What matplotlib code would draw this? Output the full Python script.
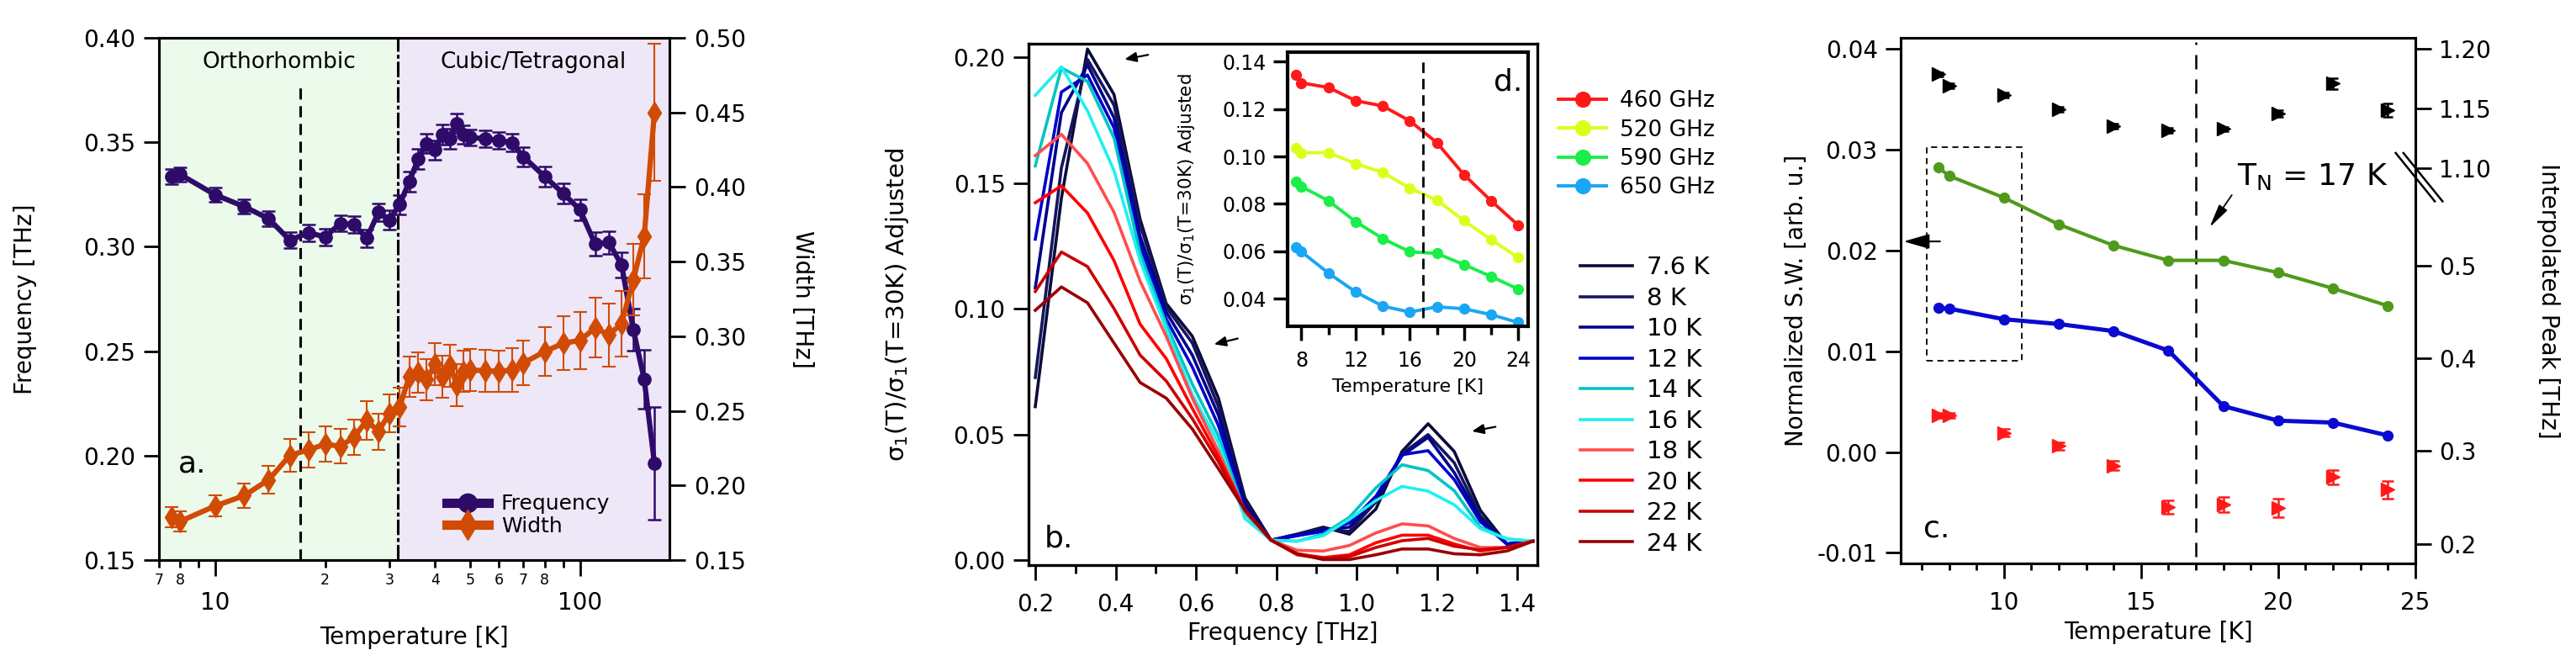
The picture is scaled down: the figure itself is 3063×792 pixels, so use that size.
import matplotlib.pyplot as plt
import numpy as np
from matplotlib.lines import Line2D
from matplotlib.patches import Rectangle
from matplotlib.ticker import FixedLocator, FormatStrFormatter, FuncFormatter, NullLocator

plt.rcParams["font.family"] = ["DejaVu Sans"]
plt.rcParams["mathtext.fontset"] = "dejavusans"

# ---------------- panel a: mode frequency / width vs temperature ----------------
temp_a = [7.6, 8, 10, 12, 14, 16, 18, 20, 22, 24, 26, 28, 30, 32, 34, 36, 38, 40, 42, 44,
          46, 48, 50, 55, 60, 65, 70, 80, 90, 100, 110, 120, 130, 140, 150, 160]
freq_a = [0.3336, 0.3346, 0.3248, 0.3192, 0.3134, 0.3031, 0.3067, 0.3047, 0.3111, 0.3107,
          0.3040, 0.3165, 0.3128, 0.3201, 0.3311, 0.3420, 0.3494, 0.3463, 0.3537, 0.3517,
          0.3591, 0.3537, 0.3523, 0.3517, 0.3510, 0.3497, 0.3430, 0.3336, 0.3255, 0.3177,
          0.3013, 0.3020, 0.2913, 0.2604, 0.2366, 0.1964]
freq_err_a = [0.0036, 0.0035, 0.0035, 0.0035, 0.0037, 0.0038, 0.0040, 0.0040, 0.0038, 0.0040,
              0.0042, 0.0042, 0.0045, 0.0045, 0.0048, 0.0050, 0.0045, 0.0045, 0.0048, 0.0050,
              0.0045, 0.0045, 0.0040, 0.0040, 0.0040, 0.0042, 0.0045, 0.0050, 0.0050, 0.0050,
              0.0055, 0.0055, 0.0060, 0.0100, 0.0140, 0.0270]
width_a = [0.1788, 0.1759, 0.1863, 0.1932, 0.2038, 0.2201, 0.2239, 0.2276, 0.2263, 0.2323,
           0.2436, 0.2361, 0.2483, 0.2526, 0.2727, 0.2756, 0.2709, 0.2812, 0.2727, 0.2803,
           0.2671, 0.2765, 0.2774, 0.2769, 0.2765, 0.2774, 0.2821, 0.2897, 0.2953, 0.2972,
           0.3056, 0.3009, 0.3085, 0.3378, 0.3669, 0.4500]
width_err_a = [0.0066, 0.0066, 0.0070, 0.0080, 0.0093, 0.0110, 0.0117, 0.0118, 0.0116, 0.0120,
               0.0130, 0.0120, 0.0127, 0.0130, 0.0136, 0.0136, 0.0136, 0.0140, 0.0140, 0.0140,
               0.0140, 0.0140, 0.0140, 0.0140, 0.0140, 0.0145, 0.0150, 0.0164, 0.0180, 0.0190,
               0.0200, 0.0210, 0.0220, 0.0240, 0.0280, 0.0460]
t_neel = 17.1
t_struct = 31.7

# ---------------- panel b: sigma1 ratio spectra ----------------
freq_b = [0.200, 0.265, 0.330, 0.396, 0.461, 0.526, 0.591, 0.656, 0.722, 0.787,
          0.852, 0.917, 0.982, 1.048, 1.113, 1.178, 1.243, 1.308, 1.374, 1.439]
sig_7p6k = [0.0611, 0.1440, 0.2033, 0.1852, 0.1356, 0.1021, 0.0891, 0.0645, 0.0248, 0.0080,
            0.0104, 0.0132, 0.0104, 0.0204, 0.0433, 0.0543, 0.0433, 0.0199, 0.0065, 0.0076]
sig_8k = [0.0727, 0.1560, 0.1992, 0.1810, 0.1335, 0.1007, 0.0864, 0.0611, 0.0234, 0.0080,
          0.0104, 0.0126, 0.0115, 0.0232, 0.0424, 0.0500, 0.0388, 0.0177, 0.0065, 0.0076]
sig_10k = [0.1083, 0.1780, 0.1970, 0.1760, 0.1288, 0.0987, 0.0816, 0.0577, 0.0221, 0.0080,
           0.0098, 0.0121, 0.0132, 0.0244, 0.0416, 0.0489, 0.0349, 0.0165, 0.0065, 0.0076]
sig_12k = [0.1277, 0.1862, 0.1930, 0.1720, 0.1254, 0.0960, 0.0768, 0.0536, 0.0207, 0.0080,
           0.0098, 0.0115, 0.0149, 0.0255, 0.0420, 0.0436, 0.0321, 0.0154, 0.0065, 0.0076]
sig_14k = [0.1568, 0.1958, 0.1904, 0.1680, 0.1220, 0.0939, 0.0700, 0.0494, 0.0187, 0.0080,
           0.0076, 0.0104, 0.0171, 0.0288, 0.0380, 0.0357, 0.0277, 0.0132, 0.0085, 0.0076]
sig_16k = [0.1849, 0.1962, 0.1787, 0.1550, 0.1192, 0.0919, 0.0659, 0.0467, 0.0166, 0.0080,
           0.0076, 0.0098, 0.0163, 0.0238, 0.0294, 0.0275, 0.0221, 0.0126, 0.0085, 0.0076]
sig_18k = [0.1609, 0.1694, 0.1578, 0.1384, 0.1110, 0.0891, 0.0645, 0.0433, 0.0193, 0.0080,
           0.0040, 0.0037, 0.0059, 0.0109, 0.0145, 0.0137, 0.0087, 0.0051, 0.0051, 0.0076]
sig_20k = [0.1422, 0.1489, 0.1381, 0.1192, 0.0939, 0.0802, 0.0604, 0.0412, 0.0200, 0.0080,
           0.0026, 0.0011, 0.0022, 0.0070, 0.0100, 0.0100, 0.0065, 0.0037, 0.0051, 0.0076]
sig_22k = [0.1069, 0.1226, 0.1168, 0.1001, 0.0816, 0.0713, 0.0563, 0.0392, 0.0200, 0.0080,
           0.0022, 0.0007, 0.0015, 0.0051, 0.0078, 0.0087, 0.0056, 0.0042, 0.0051, 0.0076]
sig_24k = [0.0994, 0.1087, 0.1024, 0.0864, 0.0707, 0.0645, 0.0522, 0.0364, 0.0200, 0.0080,
           0.0026, 0.0003, 0.0003, 0.0022, 0.0045, 0.0045, 0.0026, 0.0022, 0.0037, 0.0076]
labels_b = ["7.6 K", "8 K", "10 K", "12 K", "14 K", "16 K", "18 K", "20 K", "22 K", "24 K"]
colors_b = ["#0b0b3c", "#15155f", "#00008c", "#0000cc", "#00c4c4",
            "#20f0f0", "#ff4d4d", "#ff0000", "#cc0000", "#990000"]

# ---------------- inset d: sigma1 ratio at fixed frequency ----------------
temp_d = [7.6, 8, 10, 12, 14, 16, 18, 20, 22, 24]
sig_460 = [0.1345, 0.1310, 0.1291, 0.1235, 0.1213, 0.1150, 0.1058, 0.0923, 0.0813, 0.0710]
sig_520 = [0.1035, 0.1016, 0.1016, 0.0970, 0.0933, 0.0866, 0.0816, 0.0729, 0.0650, 0.0573]
sig_590 = [0.0895, 0.0873, 0.0813, 0.0725, 0.0654, 0.0598, 0.0591, 0.0544, 0.0494, 0.0441]
sig_650 = [0.0616, 0.0598, 0.0508, 0.0429, 0.0369, 0.0344, 0.0366, 0.0358, 0.0333, 0.0300]
labels_d = ["460 GHz", "520 GHz", "590 GHz", "650 GHz"]
colors_d = ["#ff1a1a", "#dcff1a", "#1aee48", "#1aa6f5"]

# ---------------- panel c: spectral weight and peak position ----------------
temp_c = [7.6, 8, 10, 12, 14, 16, 18, 20, 22, 24]
sw_green = [0.02825, 0.02741, 0.02524, 0.02259, 0.02050, 0.01902, 0.01902, 0.01780, 0.01624, 0.01451]
sw_blue = [0.01429, 0.01423, 0.01318, 0.01270, 0.01200, 0.01006, 0.00456, 0.00311, 0.00292, 0.00164]
peak_high = [1.1788, 1.1694, 1.1612, 1.1494, 1.1353, 1.1318, 1.1329, 1.1459, 1.1711, 1.1489]
peak_high_err = [0.002, 0.002, 0.002, 0.002, 0.002, 0.002, 0.002, 0.0025, 0.0045, 0.0055]
peak_low = [0.3384, 0.3384, 0.3196, 0.3054, 0.2843, 0.2396, 0.2426, 0.2390, 0.2719, 0.2583]
peak_low_err = [0.003, 0.003, 0.004, 0.004, 0.005, 0.0076, 0.0083, 0.0100, 0.0076, 0.0094]


def style_box(ax, lw=2.2):
    for spine in ax.spines.values():
        spine.set_linewidth(lw)


fig = plt.figure(figsize=(30.63, 7.92), dpi=100)

# ======== panel a ========
ax_a = fig.add_axes([0.0617, 0.1591, 0.1982, 0.7841])
ax_a.set_xscale("log")
ax_a.axvspan(7, t_struct, color="#ebfaeb", lw=0, zorder=0)
ax_a.axvspan(t_struct, 176, color="#eee7f7", lw=0, zorder=0)
ax_a.axvline(t_neel, ymin=0, ymax=0.905, color="k", lw=2.2, ls=(0, (4.3, 2.6)), zorder=1)
ax_a.axvline(t_struct, color="k", lw=2.2, ls=(0, (6, 1.2, 1.5, 1.2)), zorder=1)
ax_a.errorbar(temp_a, freq_a, yerr=freq_err_a, color="#2e0b69", lw=4.5, marker="o", ms=11,
              capsize=6, elinewidth=1.8, capthick=1.8, zorder=3)
ax_a.set_xlim(7, 176)
ax_a.set_ylim(0.15, 0.40)
ax_a.set_yticks([0.15, 0.20, 0.25, 0.30, 0.35, 0.40])
ax_a.yaxis.set_major_formatter(FormatStrFormatter("%.2f"))
ax_a.xaxis.set_major_locator(FixedLocator([10, 100]))
ax_a.xaxis.set_major_formatter(FuncFormatter(lambda v, pos: "%d" % round(v)))
minor_a = {7: "7", 8: "8", 9: "", 20: "2", 30: "3", 40: "4", 50: "5", 60: "6", 70: "7", 80: "8", 90: ""}
ax_a.xaxis.set_minor_locator(FixedLocator(list(minor_a.keys())))
ax_a.xaxis.set_minor_formatter(FuncFormatter(lambda v, pos: minor_a.get(int(round(v)), "")))
ax_a.tick_params(axis="y", direction="out", length=13, width=2, pad=7, labelsize=20)
ax_a.tick_params(axis="x", which="major", direction="out", length=14, width=2, pad=13, labelsize=20)
ax_a.tick_params(axis="x", which="minor", direction="out", length=6.5, width=2, pad=4, labelsize=12.5)
ax_a.set_xlabel("Temperature [K]", fontsize=20)
ax_a.xaxis.set_label_coords(0.5, -0.125)
ax_a.set_ylabel("Frequency [THz]", fontsize=20)
ax_a.yaxis.set_label_coords(-0.239, 0.5)
ax_a.text(14.96, 0.3883, "Orthorhombic", fontsize=19, ha="center", va="center")
ax_a.text(74.5, 0.3883, "Cubic/Tetragonal", fontsize=19, ha="center", va="center")
ax_a.text(7.9, 0.192, "a.", fontsize=26, va="baseline")

ax_a2 = ax_a.twinx()
ax_a2.errorbar(temp_a, width_a, yerr=width_err_a, color="#d14b05", lw=4.5, marker="d", ms=13,
               capsize=6, elinewidth=1.5, capthick=1.5, zorder=3)
ax_a2.set_ylim(0.15, 0.50)
ax_a2.set_yticks([0.15, 0.20, 0.25, 0.30, 0.35, 0.40, 0.45, 0.50])
ax_a2.yaxis.set_major_formatter(FormatStrFormatter("%.2f"))
ax_a2.tick_params(axis="y", direction="out", length=14, width=2, pad=7, labelsize=20)
ax_a2.set_ylabel("Width [THz]", fontsize=20, rotation=270, va="bottom")
ax_a2.yaxis.set_label_coords(1.237, 0.5)
handles_a = [Line2D([], [], color="#2e0b69", lw=8, marker="o", ms=16),
             Line2D([], [], color="#d14b05", lw=8, marker="d", ms=18)]
ax_a2.legend(handles_a, ["Frequency", "Width"], loc="center left", bbox_to_anchor=(0.563, 0.086),
             frameon=False, fontsize=18, borderpad=0, borderaxespad=0, handlelength=2.0,
             handletextpad=0.6, labelspacing=0.1, numpoints=1)
style_box(ax_a)
style_box(ax_a2)

# ======== panel b ========
ax_b = fig.add_axes([0.3994, 0.1515, 0.1974, 0.7828])
series_b = [sig_7p6k, sig_8k, sig_10k, sig_12k, sig_14k, sig_16k, sig_18k, sig_20k, sig_22k, sig_24k]
lines_b = []
for values, color, label in zip(series_b, colors_b, labels_b):
    (ln,) = ax_b.plot(freq_b, values, color=color, lw=2.6, label=label)
    lines_b.append(ln)
ax_b.set_xlim(0.184, 1.45)
ax_b.set_ylim(-0.0019, 0.2054)
ax_b.set_xticks([0.2, 0.4, 0.6, 0.8, 1.0, 1.2, 1.4])
ax_b.set_xticks([0.3, 0.5, 0.7, 0.9, 1.1, 1.3], minor=True)
ax_b.set_yticks([0.00, 0.05, 0.10, 0.15, 0.20])
ax_b.xaxis.set_major_formatter(FormatStrFormatter("%.1f"))
ax_b.yaxis.set_major_formatter(FormatStrFormatter("%.2f"))
ax_b.tick_params(axis="both", which="major", direction="out", length=13, width=2, pad=7, labelsize=20)
ax_b.tick_params(axis="x", which="major", pad=11)
ax_b.tick_params(axis="x", which="minor", direction="out", length=7, width=2)
ax_b.set_xlabel("Frequency [THz]", fontsize=20)
ax_b.xaxis.set_label_coords(0.5, -0.108)
ax_b.set_ylabel("σ$_1$(T)/σ$_1$(T=30K) Adjusted", fontsize=21)
ax_b.yaxis.set_label_coords(-0.232, 0.5)
ax_b.text(0.223, 0.0054, "b.", fontsize=26, va="baseline")
arrow_b = dict(arrowstyle="-|>,head_length=0.6,head_width=0.25", color="k", lw=1.6,
               mutation_scale=14, shrinkA=0, shrinkB=0)
ax_b.annotate("", xy=(0.422, 0.1992), xytext=(0.481, 0.2010), arrowprops=arrow_b)
ax_b.annotate("", xy=(0.645, 0.0859), xytext=(0.704, 0.0882), arrowprops=arrow_b)
ax_b.annotate("", xy=(1.287, 0.0513), xytext=(1.346, 0.0531), arrowprops=arrow_b)
style_box(ax_b, 2.4)

# ======== inset d ========
ax_d = fig.add_axes([0.4997, 0.5101, 0.0935, 0.4120])
lines_d = []
for values, color, label in zip([sig_460, sig_520, sig_590, sig_650], colors_d, labels_d):
    (ln,) = ax_d.plot(temp_d, values, color=color, lw=2.8, marker="o", ms=8.5, label=label)
    lines_d.append(ln)
ax_d.axvline(17, ymin=0.031, ymax=0.969, color="k", lw=2, ls=(0, (4.5, 2.5)))
ax_d.set_xlim(6.95, 24.73)
ax_d.set_ylim(0.0284, 0.1441)
ax_d.set_xticks([8, 12, 16, 20, 24])
ax_d.set_xticks([10, 14, 18, 22], minor=True)
ax_d.set_yticks([0.04, 0.06, 0.08, 0.10, 0.12, 0.14])
ax_d.yaxis.set_major_formatter(FormatStrFormatter("%.2f"))
ax_d.tick_params(axis="both", which="major", direction="out", length=12, width=2.5, pad=6, labelsize=17)
ax_d.tick_params(axis="x", which="major", pad=9)
ax_d.tick_params(axis="x", which="minor", direction="out", length=7, width=2.5)
ax_d.set_xlabel("Temperature [K]", fontsize=16)
ax_d.xaxis.set_label_coords(0.5, -0.19)
ax_d.set_ylabel("σ$_1$(T)/σ$_1$(T=30K) Adjusted", fontsize=15.5)
ax_d.yaxis.set_label_coords(-0.376, 0.5)
ax_d.text(24.3, 0.128, "d.", fontsize=26, ha="right", va="baseline")
style_box(ax_d, 3)

leg_ghz = ax_b.legend(lines_d, labels_d, loc="center left", bbox_to_anchor=(1.0414, 0.807),
                      frameon=False, fontsize=19, borderpad=0, borderaxespad=0, handlelength=2.16,
                      handletextpad=0.6, labelspacing=0.31, markerscale=1.5, numpoints=1)
ax_b.add_artist(leg_ghz)
ax_b.legend(lines_b, labels_b, loc="center left", bbox_to_anchor=(1.0844, 0.3056),
            frameon=False, fontsize=21, borderpad=0, borderaxespad=0, handlelength=2.12,
            handletextpad=0.58, labelspacing=0.29)

# ======== panel c ========
ax_c = fig.add_axes([0.7380, 0.1540, 0.1996, 0.7891])
ax_c.add_patch(Rectangle((7.2, 0.00908), 3.46, 0.02117, fill=False, ec="k", lw=1.3, ls=(0, (4, 3))))
ax_c.axvline(17, ymin=0.013, ymax=0.992, color="k", lw=1.8, ls=(0, (6.8, 4.8)))
ax_c.plot(temp_c, sw_green, color="#4f9a1c", lw=3, marker="o", ms=8.5)
ax_c.plot(temp_c, sw_blue, color="#0a0ad0", lw=3.6, marker="o", ms=8.5)
ax_c.set_xlim(6.25, 25)
ax_c.set_ylim(-0.01106, 0.0411)
ax_c.set_xticks([10, 15, 20, 25])
ax_c.set_xticks([7, 8, 9, 11, 12, 13, 14, 16, 17, 18, 19, 21, 22, 23, 24], minor=True)
ax_c.set_yticks([-0.01, 0.00, 0.01, 0.02, 0.03, 0.04])
ax_c.yaxis.set_major_formatter(FormatStrFormatter("%.2f"))
ax_c.tick_params(axis="both", which="major", direction="out", length=13, width=2, pad=7, labelsize=20)
ax_c.tick_params(axis="x", which="major", pad=11)
ax_c.tick_params(axis="x", which="minor", direction="out", length=6, width=2)
ax_c.set_xlabel("Temperature [K]", fontsize=20)
ax_c.xaxis.set_label_coords(0.5, -0.108)
ax_c.set_ylabel("Normalized S.W. [arb. u.]", fontsize=20)
ax_c.yaxis.set_label_coords(-0.181, 0.5)
ax_c.text(7.06, -0.0084, "c.", fontsize=26, va="baseline")
ax_c.text(18.49, 0.0265, "T$_\\mathrm{N}$ = 17 K", fontsize=26, va="baseline")
ax_c.annotate("", xy=(17.5, 0.0223), xytext=(18.31, 0.0255),
              arrowprops=dict(arrowstyle="-|>,head_length=0.85,head_width=0.18", color="k", lw=1.3,
                              mutation_scale=20, shrinkA=0, shrinkB=0))
ax_c.annotate("", xy=(6.34, 0.0209), xytext=(7.67, 0.0209),
              arrowprops=dict(arrowstyle="-|>,head_length=0.94,head_width=0.27", color="k", lw=1.5,
                              mutation_scale=20, shrinkA=0, shrinkB=0))


def _peak_fwd(y):
    return np.interp(y, [-1.0, 0.5, 1.10, 3.0], [-1.0, 0.5, 0.605, 0.605 + 1.9 * 1.284])


def _peak_inv(u):
    return np.interp(u, [-1.0, 0.5, 0.605, 0.605 + 1.9 * 1.284], [-1.0, 0.5, 1.10, 3.0])


ax_c2 = ax_c.twinx()
ax_c2.set_yscale("function", functions=(_peak_fwd, _peak_inv))
ax_c2.errorbar(temp_c, peak_high, yerr=peak_high_err, color="k", ls="none", marker=">", ms=12,
               capsize=4, elinewidth=1.8, capthick=1.8)
ax_c2.errorbar(temp_c, peak_low, yerr=peak_low_err, color="#ff1a1a", ls="none", marker=">", ms=12,
               capsize=5, elinewidth=1.8, capthick=1.8)
ax_c2.set_ylim(0.1789, 1.2094)
ax_c2.set_yticks([0.2, 0.3, 0.4, 0.5, 1.10, 1.15, 1.20],
                 labels=["0.2", "0.3", "0.4", "0.5", "1.10", "1.15", "1.20"])
ax_c2.yaxis.set_minor_locator(NullLocator())
ax_c2.tick_params(axis="y", direction="out", length=14, width=2, pad=6, labelsize=20)
ax_c2.set_ylabel("Interpolated Peak [THz]", fontsize=20, rotation=270, va="bottom")
ax_c2.yaxis.set_label_coords(1.2355, 0.5)
for dx in (0.0, 0.015):
    ax_c2.plot([0.962 + dx, 1.038 + dx], [0.781, 0.689], transform=ax_c2.transAxes, color="k",
               lw=1.8, clip_on=False)
style_box(ax_c)
style_box(ax_c2)

fig.savefig("out.png", dpi=100)
